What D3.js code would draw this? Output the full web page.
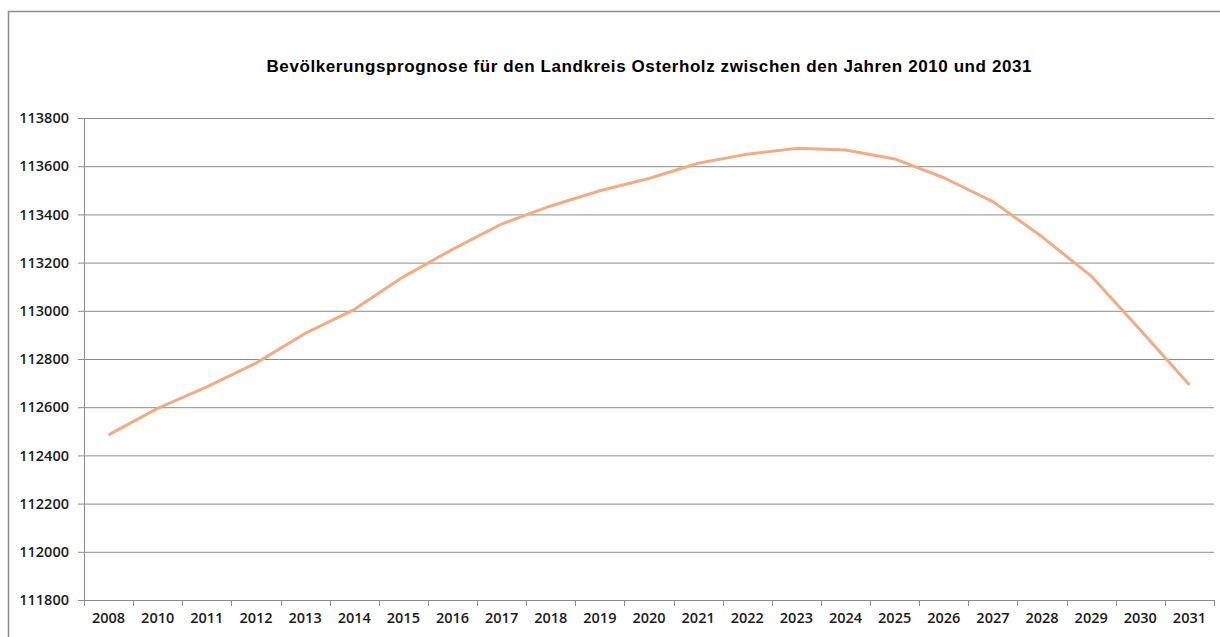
<html>
<head>
<meta charset="utf-8">
<title>Bevölkerungsprognose Landkreis Osterholz</title>
<script src="https://cdnjs.cloudflare.com/ajax/libs/d3/7.8.5/d3.min.js"></script>
<style>
  body { margin: 0; background: #fff; }
  .frame { fill: none; stroke: #8c8c8c; stroke-width: 1.5; }
  .title { font-family: "Liberation Sans", Arial, sans-serif; font-weight: bold; font-size: 17px; fill: #000; text-anchor: middle; }
  .axis text { font-family: "Open Sans", sans-serif; font-weight: 600; font-size: 14.5px; fill: #1a1a1a; }
  .axis path, .axis line { stroke: #8c8c8c; }
  .grid line { stroke: #8c8c8c; stroke-width: 1; }
  .grid path { display: none; }
  .series { fill: none; stroke: #f2ac84; stroke-width: 3; stroke-linejoin: round; }
</style>
</head>
<body>
<svg width="1220" height="637"></svg>
<script>
// years on the category axis (2009 is missing in the source)
var years = ["2008", "2010", "2011", "2012", "2013", "2014", "2015", "2016", "2017", "2018", "2019",
             "2020", "2021", "2022", "2023", "2024", "2025", "2026", "2027", "2028", "2029", "2030", "2031"];

// population
var population = [112485, 112595, 112684, 112783, 112906, 113005, 113141, 113255, 113360, 113435, 113498,
                  113549, 113612, 113650, 113674, 113667, 113630, 113552, 113453, 113307, 113144, 112920, 112692];

var yTicks = [111800, 112000, 112200, 112400, 112600, 112800, 113000, 113200, 113400, 113600, 113800];

var titleText = "Bevölkerungsprognose für den Landkreis Osterholz zwischen den Jahren 2010 und 2031";

var svg = d3.select("svg");
var margin = {left: 84, right: 1214, top: 118, bottom: 600};

// outer chart frame (open on the right and bottom, like the cropped original)
svg.append("rect")
    .attr("class", "frame")
    .attr("x", 8.5).attr("y", 11.5)
    .attr("width", 1240).attr("height", 660);

svg.append("text")
    .attr("class", "title")
    .attr("x", (margin.left + margin.right) / 2)
    .attr("y", 72)
    .attr("textLength", 765)
    .attr("lengthAdjust", "spacing")
    .text(titleText);

var x = d3.scaleBand()
    .domain(years)
    .range([margin.left, margin.right]);

var y = d3.scaleLinear()
    .domain([111800, 113800])
    .range([margin.bottom, margin.top]);

// horizontal grid
svg.append("g")
    .attr("class", "grid")
    .attr("transform", "translate(" + margin.left + ",0)")
    .call(d3.axisRight(y).tickValues(yTicks).tickSize(margin.right - margin.left).tickFormat(""));

// y axis
var yAxis = svg.append("g")
    .attr("class", "axis")
    .attr("transform", "translate(" + margin.left + ",0)")
    .call(d3.axisLeft(y).tickValues(yTicks).tickSize(6).tickPadding(9).tickFormat(d3.format("d")));
yAxis.select(".domain").attr("d", "M0.5," + margin.top + "V" + margin.bottom);

// x axis with ticks between the categories
var xAxis = svg.append("g")
    .attr("class", "axis")
    .attr("transform", "translate(0," + margin.bottom + ")")
    .call(d3.axisBottom(x).tickSize(0).tickPadding(13));
xAxis.select(".domain").attr("d", "M" + margin.left + ",0.5H" + margin.right);
xAxis.selectAll(".sep")
    .data(years.concat(["end"]))
    .enter().append("line")
    .attr("class", "sep")
    .attr("x1", function(d, i) { return Math.round(margin.left + i * x.step()) + 0.5; })
    .attr("x2", function(d, i) { return Math.round(margin.left + i * x.step()) + 0.5; })
    .attr("y1", 0).attr("y2", 6);

var line = d3.line()
    .x(function(d, i) { return x(years[i]) + x.bandwidth() / 2; })
    .y(function(d) { return y(d); });

svg.append("path")
    .datum(population)
    .attr("class", "series")
    .attr("d", line);
</script>
</body>
</html>
